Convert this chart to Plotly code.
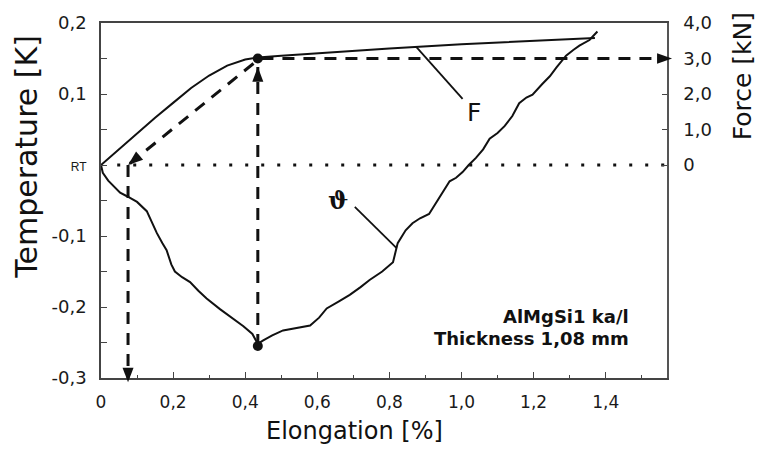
import math
import plotly.graph_objects as go

# ---------------- data ----------------
# Force curve F (elongation %, force kN)
elong_F = [0.0, 0.05, 0.10, 0.15, 0.20, 0.25, 0.30, 0.35, 0.40, 0.435, 0.50, 0.60, 0.80, 1.00, 1.20, 1.37]
force_F = [0.0, 0.45, 0.90, 1.33, 1.75, 2.17, 2.52, 2.80, 2.97, 3.03, 3.08, 3.15, 3.28, 3.40, 3.50, 3.58]

# Temperature curve (elongation %, temperature change K)
elong_T = [0.0, 0.005, 0.02, 0.035, 0.053, 0.072, 0.10, 0.127, 0.14, 0.155, 0.17, 0.182, 0.195, 0.205,
           0.225, 0.247, 0.27, 0.293, 0.33, 0.366, 0.395, 0.42, 0.435, 0.45, 0.475, 0.505, 0.54, 0.58,
           0.605, 0.626, 0.66, 0.69, 0.72, 0.745, 0.78, 0.81, 0.823, 0.845, 0.864, 0.885, 0.91, 0.94,
           0.967, 0.985, 1.003, 1.02, 1.04, 1.06, 1.078, 1.10, 1.12, 1.141, 1.16, 1.18, 1.197, 1.224,
           1.245, 1.263, 1.29, 1.31, 1.327, 1.355, 1.377]
temp_T = [0.0, -0.011, -0.022, -0.030, -0.039, -0.044, -0.052, -0.065, -0.080, -0.096, -0.110, -0.120,
          -0.140, -0.150, -0.158, -0.165, -0.177, -0.188, -0.203, -0.216, -0.227, -0.238, -0.252, -0.247,
          -0.240, -0.233, -0.230, -0.226, -0.215, -0.202, -0.192, -0.183, -0.172, -0.162, -0.150, -0.137,
          -0.110, -0.092, -0.082, -0.075, -0.069, -0.045, -0.023, -0.018, -0.010, 0.000, 0.010, 0.022,
          0.037, 0.045, 0.055, 0.069, 0.087, 0.095, 0.099, 0.114, 0.125, 0.137, 0.154, 0.162, 0.168,
          0.176, 0.188]

# tick labels
x_tickvals = [0, 0.2, 0.4, 0.6, 0.8, 1.0, 1.2, 1.4]
x_ticktext = ["0", "0,2", "0,4", "0,6", "0,8", "1,0", "1,2", "1,4"]
yT_tickvals = [-0.3, -0.2, -0.1, 0.0, 0.1, 0.2]
yT_ticktext = ["-0,3", "-0,2", "-0,1",
               "<span style='font-family:Liberation Sans Narrow, Liberation Sans;font-size:12px'>RT</span>",
               "0,1", "0,2"]
yF_tickvals = [0, 1, 2, 3, 4]
yF_ticktext = ["0", "1,0", "2,0", "3,0", "4,0"]

# key points
yield_elong = 0.435
yield_temp = 0.15
min_temp = -0.255
rt_elong = 0.075

# annotation anchors (elongation, temperature)
F_leader_x = [0.875, 1.003]
F_leader_y = [0.166, 0.093]
F_label = (1.036, 0.074)
th_leader_x = [0.704, 0.82]
th_leader_y = [-0.059, -0.117]
th_label = (0.657, -0.050)

X_RANGE = [0, 1.57]
T_RANGE = [-0.3, 0.2]
F_RANGE = [-6, 4]

# ---------------- layout geometry ----------------
W, H = 758, 455
ML, MR, MT, MB = 101, 91, 14, 77
PW, PH = W - ML - MR, H - MT - MB
PX_X = PW / (X_RANGE[1] - X_RANGE[0])
PX_T = PH / (T_RANGE[1] - T_RANGE[0])

fig = go.Figure()

BLACK = "#111111"
DASH = "12px,9px"

# dotted RT line
fig.add_trace(go.Scatter(x=[0.045, X_RANGE[1]], y=[0, 0], mode="lines",
                         line=dict(color=BLACK, width=3, dash="3px,13px"),
                         cliponaxis=False, hoverinfo="skip"))

shapes = []


def to_paper(x, t):
    return (x - X_RANGE[0]) / (X_RANGE[1] - X_RANGE[0]), (t - T_RANGE[0]) / (T_RANGE[1] - T_RANGE[0])


def arrow(x0, t0, x1, t1, L=15, hw=5.5):
    fig.add_trace(go.Scatter(x=[x0, x1], y=[t0, t1], mode="lines",
                             line=dict(color=BLACK, width=3, dash=DASH),
                             cliponaxis=False, hoverinfo="skip"))
    # filled arrow head with tip at (x1, t1), drawn in paper coordinates
    dx = (x1 - x0) * PX_X
    dy = (t1 - t0) * PX_T
    n = math.hypot(dx, dy)
    ux, uy = dx / n, dy / n
    px, py = -uy, ux
    tipx, tipy = to_paper(x1, t1)
    pts = [(0.0, 0.0), (-ux * L + px * hw, -uy * L + py * hw), (-ux * L - px * hw, -uy * L - py * hw)]
    path = "M " + " L ".join(f"{tipx + a / PW:.5f},{tipy + b / PH:.5f}" for a, b in pts) + " Z"
    shapes.append(dict(type="path", xref="paper", yref="paper", path=path,
                       fillcolor=BLACK, line=dict(width=0)))


arrow(yield_elong - 0.012, yield_temp - 0.007, rt_elong, 0.0)
arrow(rt_elong, 0.0, rt_elong, T_RANGE[0] - 0.006)
arrow(yield_elong, min_temp, yield_elong, 0.138)
arrow(yield_elong + 0.01, yield_temp, X_RANGE[1] + 0.014, yield_temp)

# temperature curve
fig.add_trace(go.Scatter(x=elong_T, y=temp_T, mode="lines",
                         line=dict(color=BLACK, width=2), hoverinfo="skip"))
# force curve
fig.add_trace(go.Scatter(x=elong_F, y=force_F, mode="lines", yaxis="y2",
                         line=dict(color=BLACK, width=2), hoverinfo="skip"))

# dots
fig.add_trace(go.Scatter(x=[yield_elong, yield_elong], y=[yield_temp, min_temp], mode="markers",
                         marker=dict(color=BLACK, size=10, symbol="circle"), hoverinfo="skip"))

# leader lines
fig.add_trace(go.Scatter(x=F_leader_x, y=F_leader_y, mode="lines",
                         line=dict(color=BLACK, width=1.8), hoverinfo="skip"))
fig.add_trace(go.Scatter(x=th_leader_x, y=th_leader_y, mode="lines",
                         line=dict(color=BLACK, width=1.8), hoverinfo="skip"))

XTICKFONT = dict(family="DejaVu Sans", size=17, color="#1a1a1a")
YTICKFONT = dict(family="DejaVu Sans", size=18, color="#1a1a1a")

fig.update_layout(
    width=W, height=H,
    margin=dict(l=ML, r=MR, t=MT, b=MB),
    paper_bgcolor="white", plot_bgcolor="white",
    showlegend=False,
    shapes=shapes,
    xaxis=dict(range=X_RANGE, tickvals=x_tickvals, ticktext=x_ticktext,
               showgrid=False, zeroline=False, showline=True, linecolor="#444444", linewidth=1.5,
               mirror=True, ticks="inside", ticklen=6, tickwidth=1.2, tickcolor="#444444",
               minor=dict(ticks="inside", ticklen=3, dtick=0.1, tick0=0, tickcolor="#444444", tickwidth=1),
               tickfont=XTICKFONT, ticklabelstandoff=8),
    yaxis=dict(range=T_RANGE, tickvals=yT_tickvals, ticktext=yT_ticktext,
               showgrid=False, zeroline=False, showline=True, linecolor="#444444", linewidth=1.5,
               ticks="inside", ticklen=6, tickwidth=1.2, tickcolor="#444444",
               minor=dict(ticks="inside", ticklen=6, dtick=0.05, tick0=0, tickcolor="#444444", tickwidth=1),
               tickfont=YTICKFONT, ticklabelstandoff=9),
    yaxis2=dict(range=F_RANGE, tickvals=yF_tickvals, ticktext=yF_ticktext, overlaying="y", side="right",
                showgrid=False, zeroline=False, showline=True, linecolor="#555555", linewidth=1.5,
                ticks="inside", ticklen=5, tickwidth=1.2, tickcolor="#444444",
                tickfont=YTICKFONT, ticklabelstandoff=11),
)

# axis titles as annotations
fig.add_annotation(text="Temperature [K]", xref="paper", yref="paper", x=-0.132, y=0.624,
                   textangle=-90, showarrow=False, xanchor="center", yanchor="middle",
                   font=dict(family="DejaVu Sans", size=30, color="#111111"))
fig.add_annotation(text="Force [kN]", xref="paper", yref="paper", x=1.1325, y=0.85,
                   textangle=-90, showarrow=False, xanchor="center", yanchor="middle",
                   font=dict(family="DejaVu Sans", size=25, color="#111111"))
fig.add_annotation(text="Elongation [%]", xref="paper", yref="paper", x=0.447, y=-0.150,
                   showarrow=False, xanchor="center", yanchor="middle",
                   font=dict(family="DejaVu Sans", size=24, color="#111111"))

# curve labels
fig.add_annotation(text="F", x=F_label[0], y=F_label[1], xref="x", yref="y", showarrow=False,
                   font=dict(family="DejaVu Sans", size=25, color="#111111"))
fig.add_annotation(text="\u03d1", x=th_label[0], y=th_label[1], xref="x", yref="y", showarrow=False,
                   font=dict(family="DejaVu Serif", size=24, color="#111111", weight="bold"))

# material text
fig.add_annotation(text="<b>AlMgSi1 ka/l</b>", x=1.471, y=-0.213, xref="x", yref="y",
                   xanchor="right", yanchor="middle", showarrow=False,
                   font=dict(family="DejaVu Sans", size=18, color="#111111"))
fig.add_annotation(text="<b>Thickness 1,08 mm</b>", x=1.471, y=-0.244, xref="x", yref="y",
                   xanchor="right", yanchor="middle", showarrow=False,
                   font=dict(family="DejaVu Sans", size=18, color="#111111"))

fig.write_html("out.html")
